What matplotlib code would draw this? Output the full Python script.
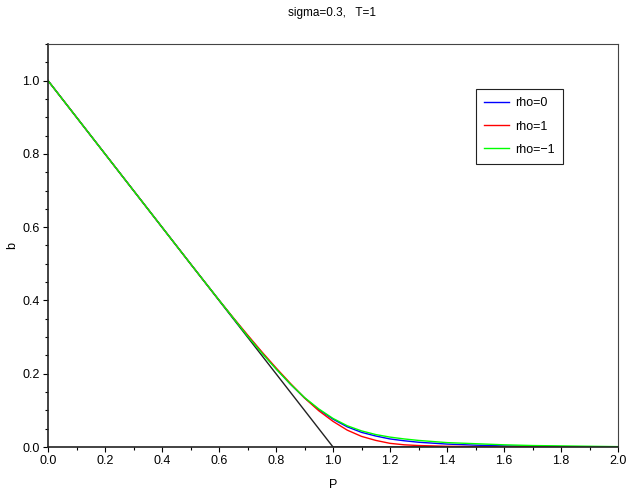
import matplotlib
matplotlib.use("Agg")
import matplotlib.pyplot as plt
from matplotlib.ticker import MultipleLocator, FormatStrFormatter

# payoff max(1-P, 0)
payoff_p = [0.0, 1.0, 2.0]
payoff_b = [1.0, 0.0, 0.0]

# values
p = [0.0, 0.5, 0.6, 0.65, 0.7, 0.75, 0.8, 0.85, 0.9, 0.95, 1.0, 1.05, 1.1,
     1.15, 1.2, 1.25, 1.3, 1.4, 1.5, 1.6, 1.7, 1.8, 1.9, 2.0]
b_rho0 = [1.0, 0.5, 0.401, 0.352, 0.304, 0.258, 0.214, 0.172, 0.134, 0.102, 0.076,
          0.055, 0.040, 0.030, 0.022, 0.017, 0.013, 0.008, 0.005, 0.003, 0.002,
          0.001, 0.0005, 0.0003]
b_rho1 = [1.0, 0.5, 0.401, 0.353, 0.306, 0.260, 0.216, 0.174, 0.134, 0.099, 0.070,
          0.046, 0.029, 0.018, 0.010, 0.006, 0.004, 0.002, 0.001, 0.0005, 0.0,
          0.0, 0.0, 0.0]
b_rhom1 = [1.0, 0.5, 0.401, 0.352, 0.303, 0.257, 0.213, 0.172, 0.135, 0.104, 0.078,
           0.058, 0.044, 0.034, 0.027, 0.022, 0.018, 0.012, 0.009, 0.006, 0.004,
           0.003, 0.002, 0.001]

plt.rcParams["font.family"] = ["Liberation Sans", "DejaVu Sans"]

fig = plt.figure(figsize=(6.3, 4.91), dpi=100)
ax = fig.add_axes([0.0762, 0.0896, 0.9048, 0.8208])

ax.plot(payoff_p, payoff_b, color="#222222", linewidth=1.0)
ax.plot(p, b_rho0, color="#0000ff", linewidth=1.0, label="rho=0")
ax.plot(p, b_rho1, color="#ff0000", linewidth=1.0, label="rho=1")
ax.plot(p, b_rhom1, color="#00ff00", linewidth=1.0, label="rho=\u22121")

ax.set_xlim(0, 2)
ax.set_ylim(0, 1.1)
ax.xaxis.set_major_locator(MultipleLocator(0.2))
ax.xaxis.set_minor_locator(MultipleLocator(0.1))
ax.yaxis.set_major_locator(MultipleLocator(0.2))
ax.yaxis.set_minor_locator(MultipleLocator(0.05))
ax.xaxis.set_major_formatter(FormatStrFormatter("%.1f"))
ax.yaxis.set_major_formatter(FormatStrFormatter("%.1f"))
ax.tick_params(which="major", length=3.6, width=0.8, labelsize=9, pad=2.5)
ax.tick_params(which="minor", length=2.0, width=0.8)

for side in ["left", "bottom"]:
    ax.spines[side].set_linewidth(1.2)
    ax.spines[side].set_color("#222222")
for side in ["top", "right"]:
    ax.spines[side].set_linewidth(0.8)
    ax.spines[side].set_color("#444444")

ax.set_xlabel("P", fontsize=9, labelpad=8)
ax.set_ylabel("b", fontsize=9)
ax.yaxis.set_label_coords(-0.052, 0.5)
fig.suptitle("sigma=0.3,   T=1", fontsize=8.5, y=0.985, x=0.527)

leg = ax.legend(loc="upper right", bbox_to_anchor=(0.9035, 0.888), borderaxespad=0,
                fontsize=9, fancybox=False, edgecolor="#222222", framealpha=1,
                handlelength=2.0, labelspacing=0.9, borderpad=0.65, handletextpad=0.5)
leg.get_frame().set_linewidth(0.8)

fig.savefig("out.png", dpi=100)
